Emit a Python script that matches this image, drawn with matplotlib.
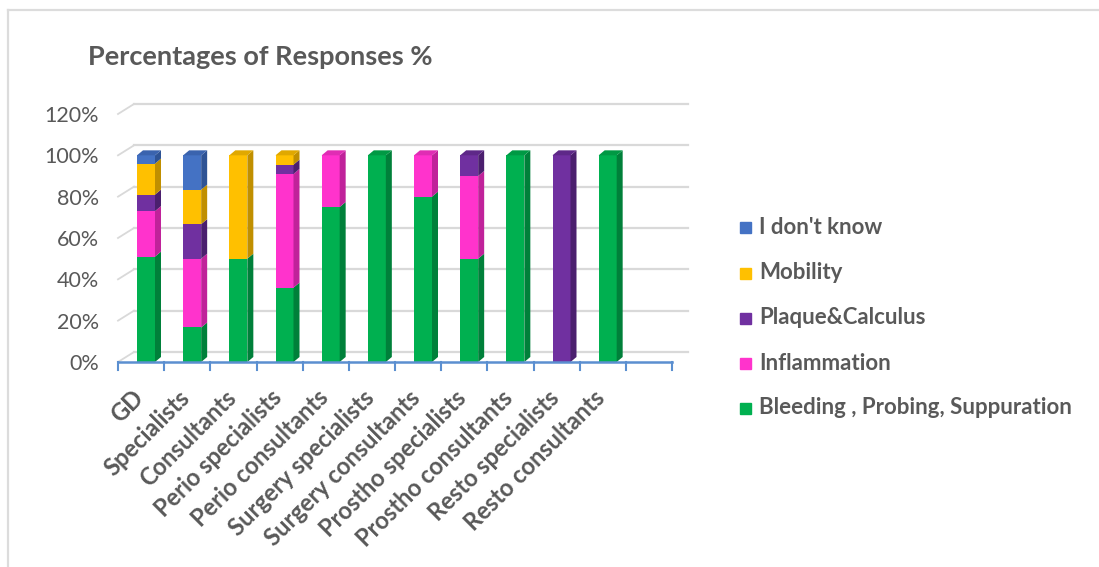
import matplotlib
matplotlib.use("Agg")
from matplotlib import pyplot as plt
from matplotlib.patches import Polygon, Rectangle
from matplotlib.lines import Line2D

# data (percent of responses per group)
groups = ["GD", "Specialists", "Consultants", "Perio specialists", "Perio consultants",
          "Surgery specialists", "Surgery consultants", "Prostho specialists",
          "Prostho consultants", "Resto specialists", "Resto consultants"]
bleeding = [51, 16.7, 50, 36, 75, 100, 80, 50, 100, 0, 100]
inflammation = [22, 33.3, 0, 55, 25, 0, 20, 40, 0, 0, 0]
plaque = [8, 16.7, 0, 4.5, 0, 0, 0, 10, 0, 100, 0]
mobility = [15, 16.7, 50, 4.5, 0, 0, 0, 0, 0, 0, 0]
dont_know = [4, 16.6, 0, 0, 0, 0, 0, 0, 0, 0, 0]

series = [bleeding, inflammation, plaque, mobility, dont_know]
names = ["Bleeding , Probing, Suppuration", "Inflammation", "Plaque&Calculus",
         "Mobility", "I don't know"]
front_cols = ["#00B050", "#FF33CC", "#7030A0", "#FFC000", "#4472C4"]
side_cols = ["#00803A", "#C0229A", "#4B1F6E", "#C08F00", "#2E5395"]
top_cols = ["#009944", "#E02DB4", "#5E2888", "#E0A800", "#3A63AE"]
yticks = [0, 20, 40, 60, 80, 100, 120]

W, H = 1099, 567
fig = plt.figure(figsize=(W / 100, H / 100), dpi=100)
plt.rcParams["font.family"] = ["Lato", "DejaVu Sans"]
gray = "#595959"

# plot area in pixels
x0, x1 = 118, 672
y0, y1 = 362, 114
ax = fig.add_axes([x0 / W, 1 - y0 / H, (x1 - x0) / W, (y0 - y1) / H])
nslot = 12
ax.set_xlim(0, nslot)
ax.set_ylim(0, 120)
ax.axis("off")

pxx = nslot / (x1 - x0)   # data units per pixel in x
pxy = 120 / (y0 - y1)     # data units per pixel in y

# back wall gridlines
bdx, bdy = 16 * pxx, 10 * pxy
for v in yticks:
    ax.plot([0, bdx], [v, v + bdy], color="#d9d9d9", lw=1.3, clip_on=False, zorder=1)
    ax.plot([bdx, nslot + bdx], [v + bdy, v + bdy], color="#d9d9d9", lw=1.6,
            clip_on=False, zorder=1)
    ax.text(-19 * pxx, v - 2 * pxy, f"{v}%", ha="right", va="center",
            fontsize=15.5, color=gray)

# category axis
ax.plot([0, nslot], [0, 0], color="#5B8FD0", lw=1.8, clip_on=False, zorder=5)
for i in range(nslot + 1):
    ax.plot([i, i], [0, -8 * pxy], color="#5B8FD0", lw=1.5, clip_on=False, zorder=5)

# pseudo-3D stacked bars
bl = 19 * pxx
bw = 18 * pxx
dx, dy = 6 * pxx, 5 * pxy
for i in range(len(groups)):
    bottom = 0
    for k, vals in enumerate(series):
        v = vals[i]
        if v <= 0:
            continue
        xl = i + bl
        ax.bar(xl, v, width=bw, bottom=bottom, align="edge", color=front_cols[k],
               zorder=3, clip_on=False, lw=0)
        ax.add_patch(Polygon([[xl + bw, bottom], [xl + bw + dx, bottom + dy],
                              [xl + bw + dx, bottom + v + dy], [xl + bw, bottom + v]],
                             closed=True, color=side_cols[k], lw=0, zorder=3,
                             clip_on=False))
        bottom += v
        top_k = k
    ax.add_patch(Polygon([[xl, bottom], [xl + dx, bottom + dy],
                          [xl + bw + dx, bottom + dy], [xl + bw, bottom]],
                         closed=True, color=top_cols[top_k], lw=0, zorder=3,
                         clip_on=False))

# rotated category labels
for i, g in enumerate(groups):
    ax.text(i + 0.47, -32 * pxy, g, rotation=45, rotation_mode="anchor",
            ha="right", va="center", fontsize=17, fontweight="bold", color=gray)

# title
fig.text(88 / W, 1 - 57 / H, "Percentages of Responses %", fontsize=19.5,
         fontweight="bold", color=gray, ha="left", va="center")

# legend (top to bottom)
leg_y = [227, 273, 318, 363, 408]
for j, k in enumerate(range(len(series) - 1, -1, -1)):
    yy = leg_y[j]
    fig.patches.append(Rectangle((740 / W, 1 - (yy + 6) / H), 11 / W, 11 / H,
                                 transform=fig.transFigure, color=front_cols[k]))
    fig.text(759 / W, 1 - yy / H, names[k], fontsize=16, fontweight="bold",
             color=gray, ha="left", va="center")

# outer frame
fig.add_artist(Line2D([8 / W, 1], [1 - 10 / H, 1 - 10 / H], color="#dcdcdc", lw=1.6,
                      transform=fig.transFigure))
fig.add_artist(Line2D([8 / W, 8 / W], [0, 1 - 10 / H], color="#dcdcdc", lw=1.6,
                      transform=fig.transFigure))

fig.savefig("out.png", dpi=100)
